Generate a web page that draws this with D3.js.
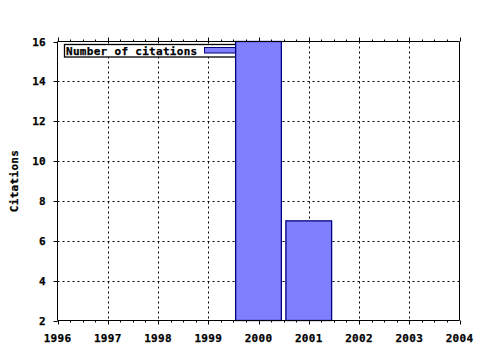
<!DOCTYPE html>
<html><head><meta charset="utf-8">
<script src="https://cdn.jsdelivr.net/npm/d3@7"></script>
<style>
body{margin:0;background:#fff;}
text{font-family:"DejaVu Sans Mono","Liberation Mono",monospace;font-weight:bold;font-size:11px;fill:#000;stroke:#000;stroke-width:0.25px;}
</style></head>
<body>
<svg id="c" width="480" height="350"></svg>
<script>
const years = [2000, 2001];
const citations = [16, 7];
const xTicks = [1996, 1997, 1998, 1999, 2000, 2001, 2002, 2003, 2004];
const yTicks = [2, 4, 6, 8, 10, 12, 14, 16];
const seriesName = "Number of citations";
const yTitle = "Citations";

const svg = d3.select("#c");
const x = d3.scaleLinear().domain([1996, 2004]).range([57.5, 459.5]);
const y = d3.scaleLinear().domain([2, 16]).range([320.5, 41.5]);
const L = 57.5, R = 459.5, T = 41.5, B = 320.5;

// grid
const g = svg.append("g");
g.selectAll(".gx").data(xTicks.slice(1, -1)).join("line")
  .attr("x1", d => Math.round(x(d)) + 0.5).attr("x2", d => Math.round(x(d)) + 0.5)
  .attr("y1", T).attr("y2", B)
  .attr("stroke", "#000").attr("stroke-dasharray", "2,3").attr("stroke-width", 1);
g.selectAll(".gy").data(yTicks.slice(1, -1)).join("line")
  .attr("y1", d => Math.round(y(d)) + 0.5).attr("y2", d => Math.round(y(d)) + 0.5)
  .attr("x1", L).attr("x2", R)
  .attr("stroke", "#000").attr("stroke-dasharray", "2,3").attr("stroke-width", 1);

// legend (drawn under bars)
const lg = svg.append("g");
lg.append("rect").attr("x", 64.5).attr("y", 44.5).attr("width", 178).attr("height", 12.5)
  .attr("fill", "#fff").attr("stroke", "#000").attr("stroke-width", 1.3);
lg.append("text").attr("x", 66).attr("y", 54.5).style("letter-spacing", "0.3px").text(seriesName);
lg.append("rect").attr("x", 204.5).attr("y", 47.5).attr("width", 34).attr("height", 5.5)
  .attr("fill", "#8080ff").attr("stroke", "#000080").attr("stroke-width", 1);

// bars
const half = 0.455;
svg.append("g").selectAll("rect").data(years).join("rect")
  .attr("x", (d) => x(d - half))
  .attr("width", () => x(1996 + 2 * half) - x(1996))
  .attr("y", (d, i) => y(citations[i]))
  .attr("height", (d, i) => y(2) - y(citations[i]))
  .attr("fill", "#8080ff").attr("stroke", "#000080").attr("stroke-width", 1.3);

// frame
const f = svg.append("g").attr("stroke", "#000").attr("stroke-width", 1);
f.append("line").attr("x1", L).attr("x2", R).attr("y1", B).attr("y2", B);
f.append("line").attr("x1", L).attr("x2", R).attr("y1", T).attr("y2", T);
f.append("line").attr("x1", L).attr("x2", L).attr("y1", T).attr("y2", B);
f.append("line").attr("x1", R).attr("x2", R).attr("y1", T).attr("y2", B);

// x ticks (major + minor) bottom and top
const minor = d3.range(1996, 2004.001, 0.25).filter(v => Math.abs(v - Math.round(v)) > 1e-6);
const px = v => Math.round(x(v)) + 0.5;
f.selectAll(".mb").data(xTicks).join("line").attr("x1", px).attr("x2", px).attr("y1", B).attr("y2", B + 4);
f.selectAll(".mt").data(xTicks).join("line").attr("x1", px).attr("x2", px).attr("y1", T).attr("y2", T - 4);
f.selectAll(".nb").data(minor).join("line").attr("x1", px).attr("x2", px).attr("y1", B).attr("y2", B + 2);
f.selectAll(".nt").data(minor).join("line").attr("x1", px).attr("x2", px).attr("y1", T).attr("y2", T - 2);
// y ticks
const py = v => Math.round(y(v)) + 0.5;
f.selectAll(".yl").data(yTicks).join("line").attr("x1", L - 4).attr("x2", L).attr("y1", py).attr("y2", py);

// x labels
svg.append("g").selectAll("text").data(xTicks).join("text")
  .attr("x", d => x(d)).attr("y", 341.5).attr("text-anchor", "middle")
  .style("letter-spacing", "0.3px").text(d => d);
// y labels
svg.append("g").selectAll("text").data(yTicks).join("text")
  .attr("x", 46).attr("y", d => y(d) + 4).attr("text-anchor", "end")
  .style("letter-spacing", "0.3px").text(d => d);
// y title
svg.append("text").attr("transform", "translate(18,181) rotate(-90)")
  .attr("text-anchor", "middle").style("letter-spacing", "0.3px").text(yTitle);
</script>
</body></html>
